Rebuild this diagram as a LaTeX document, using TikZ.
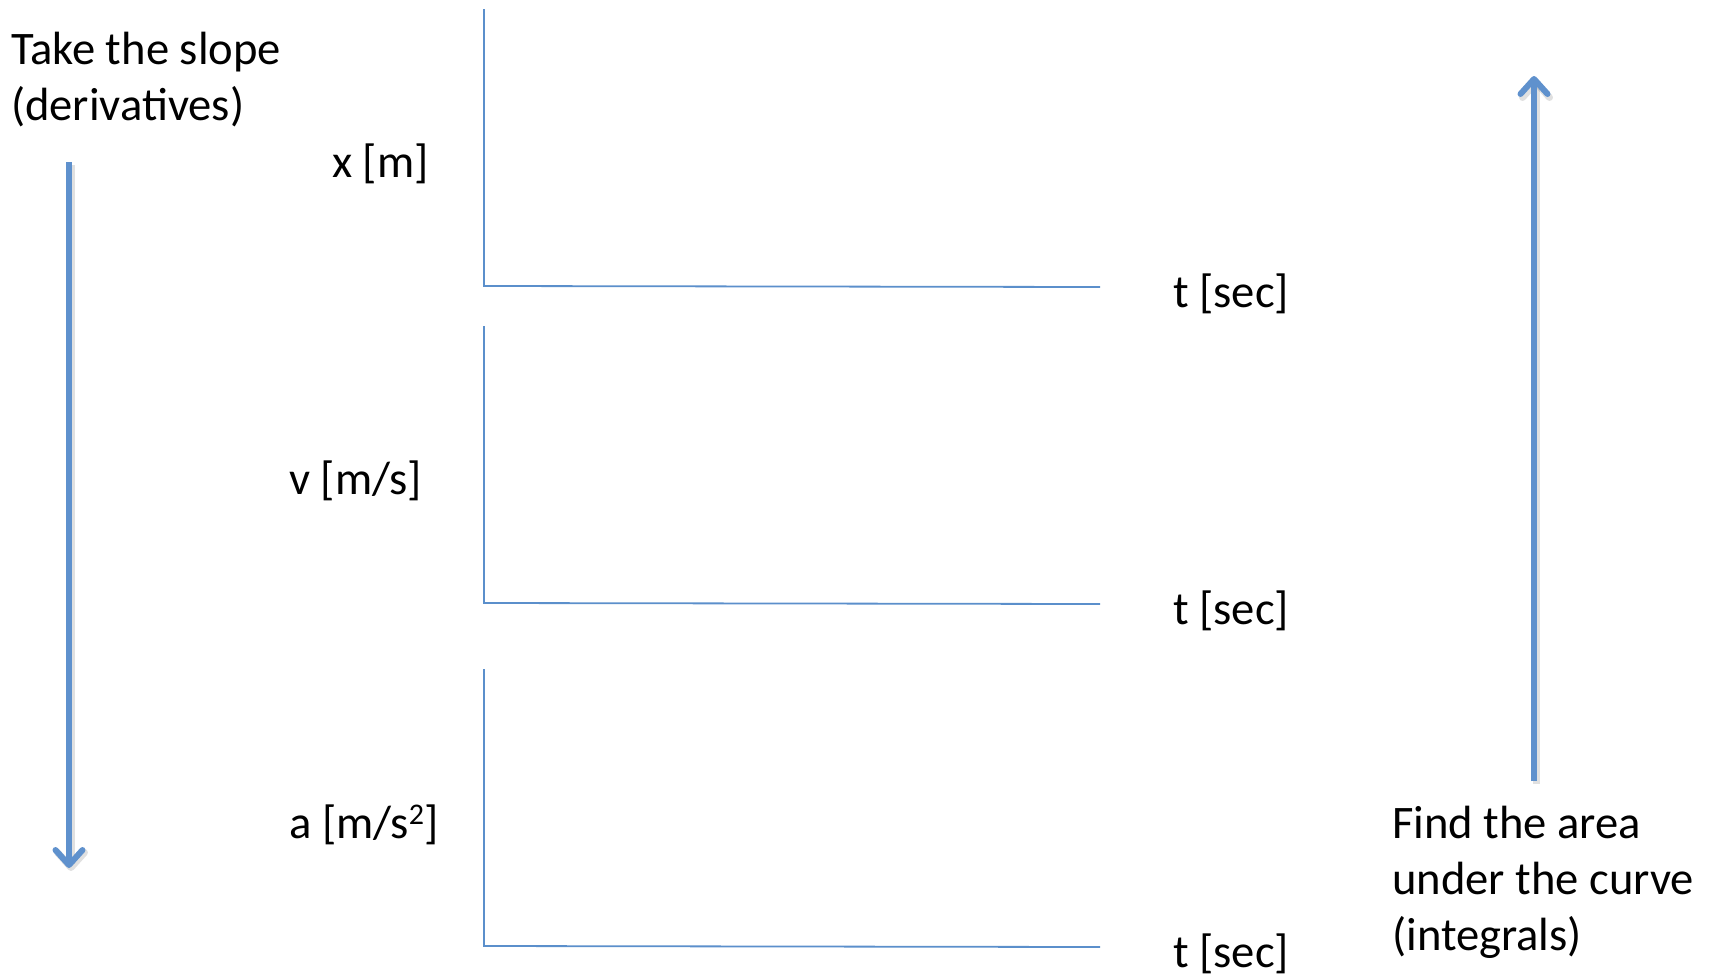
\documentclass[tikz,border=0pt]{standalone}
\usepackage{fontspec}
\setmainfont{Carlito}
\usetikzlibrary{arrows.meta}
\definecolor{axisblue}{RGB}{91,143,203}
\definecolor{arrowblue}{RGB}{95,145,205}
\tikzset{
  axisline/.style={draw=axisblue, line width=1.8pt},
  bigarrow/.style={draw=arrowblue, line width=6pt,
    -{Straight Barb[length=15pt,width=27pt,line cap=round,line join=round]}},
  arrowshade/.style={draw=black, opacity=0.12, line width=7pt,
    -{Straight Barb[length=15pt,width=27pt,line cap=round,line join=round]}},
  lbl/.style={inner sep=0pt, anchor=base west, align=left,
    font=\fontsize{46.6}{56}\selectfont},
}
\newcommand{\supnum}[1]{\raisebox{0.62ex}{\fontsize{30}{30}\selectfont #1}}
\begin{document}
\begin{tikzpicture}[x=1pt,y=-1pt]
\useasboundingbox (0,0) rectangle (1713,975);

% three empty coordinate frames
\coordinate (xtop) at (484,9);   \coordinate (xo) at (484,286);  \coordinate (xend) at (1100,287);
\coordinate (vtop) at (484,326); \coordinate (vo) at (484,603);  \coordinate (vend) at (1100,604);
\coordinate (atop) at (484,669); \coordinate (ao) at (484,946);  \coordinate (aend) at (1100,947);
\draw[axisline] (xtop) -- (xo) -- (xend);
\draw[axisline] (vtop) -- (vo) -- (vend);
\draw[axisline] (atop) -- (ao) -- (aend);

% axis labels
\node[lbl] (xlab) at (332,177) {x [m]};
\node[lbl] (vlab) at (289,494) {v [m/s]};
\node[lbl] (alab) at (289,838) {a [m/s\supnum{2}]};
\node[lbl] (t1) at (1173,307) {t [sec]};
\node[lbl] (t2) at (1173,624) {t [sec]};
\node[lbl] (t3) at (1173,967) {t [sec]};

% derivative direction (base anchor sits on the last line)
\node[lbl] (slope) at (11,120) {Take the slope\\(derivatives)};
\coordinate (dstart) at (69,162);
\coordinate (dend) at (69,868);
\draw[arrowshade] ([shift={(2,3)}]dstart) -- ([shift={(2,3)}]dend);
\draw[bigarrow] (dstart) -- (dend);

% integral direction
\node[lbl] (area) at (1392,950) {Find the area\\under the curve\\(integrals)};
\coordinate (istart) at (1534,781);
\coordinate (iend) at (1534,76);
\draw[arrowshade] ([shift={(2,3)}]istart) -- ([shift={(2,3)}]iend);
\draw[bigarrow] (istart) -- (iend);
\end{tikzpicture}
\end{document}
